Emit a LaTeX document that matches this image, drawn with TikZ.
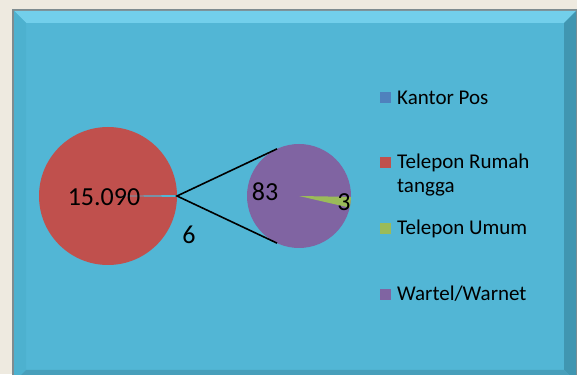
\documentclass[tikz,border=0pt]{standalone}
\usepackage{fontspec}
\setmainfont{Carlito}
\usepackage{tikz}
\usetikzlibrary{calc}
\definecolor{paper}{HTML}{EEEAE0}
\definecolor{rim}{HTML}{7E8C90}
\definecolor{panel}{HTML}{52B6D5}
\definecolor{bevtop}{HTML}{72CFEB}
\definecolor{bevleft}{HTML}{4DB1CF}
\definecolor{bevright}{HTML}{4096B1}
\definecolor{bevbottom}{HTML}{489FBB}
\definecolor{kantor}{HTML}{4F81BD}
\definecolor{rumah}{HTML}{C0504D}
\definecolor{umum}{HTML}{9BBB59}
\definecolor{wartel}{HTML}{8064A2}
\tikzstyle{legendbox} = [rectangle, minimum width=11pt, minimum height=11pt, inner sep=0pt]
\tikzstyle{legendtext} = [anchor=base west, inner sep=0pt, font=\fontsize{21}{24}\selectfont, align=left]
\tikzstyle{value} = [inner sep=0pt, font=\fontsize{26}{30}\selectfont]
\tikzstyle{zoomline} = [black, line width=1.6pt]

\begin{document}
\begin{tikzpicture}[x=1pt, y=1pt]
    \useasboundingbox (0,0) rectangle (577,374);
    \clip (0,0) rectangle (577,374);
    % frame
    \fill[paper] (0,0) rectangle (577,374);
    \fill[rim] (12,-10) rectangle (578,365);
    \fill[panel] (14,-8) rectangle (576,363);
    \fill[bevtop] (14,363) -- (576,363) -- (564,351) -- (26,351) -- cycle;
    \fill[bevleft] (14,363) -- (26,351) -- (26,4) -- (14,-8) -- cycle;
    \fill[bevright] (576,363) -- (564,351) -- (564,4) -- (576,-8) -- cycle;
    \fill[bevbottom] (14,-8) -- (26,4) -- (564,4) -- (576,-8) -- cycle;

    % pies
    \coordinate (big) at (108,178);
    \coordinate (small) at (299,178);
    \fill[rumah] (big) circle (69);
    \fill[panel] (big) -- ++(0.8:69) arc (0.8:-0.8:69) -- cycle;
    \fill[wartel] (small) circle (52);
    \fill[umum] (small) -- ++(-1:52) arc (-1:-13:52) -- cycle;

    \coordinate (apex) at ($(big)+(0:69)$);
    \coordinate (uptip) at ($(small)+(115:52)$);
    \coordinate (downtip) at ($(small)+(-115:52)$);
    \draw [zoomline] (uptip) -- (apex) -- (downtip);

    \node (vrumah) [value] at (104,177) {15.090};
    \node (vkantor) [value] at (189,139) {6};
    \node (vwartel) [value] at (265,182.5) {83};
    \node (vumum) [value] at (344,171.5) {3};

    % legend
    \node (bkantor) [legendbox, fill=kantor] at (385,276) {};
    \node (bumah) [legendbox, fill=rumah] at (385,211) {};
    \node (bumum) [legendbox, fill=umum] at (385,145) {};
    \node (bwartel) [legendbox, fill=wartel] at (385,79) {};
    \node (tkantor) [legendtext] at (397,269.7) {Kantor Pos};
    \node (tumah) [legendtext, anchor=north west] at (397,220) {Telepon Rumah\\tangga};
    \node (tumum) [legendtext] at (397,139) {Telepon Umum};
    \node (twartel) [legendtext] at (397,73.3) {Wartel/Warnet};
\end{tikzpicture}
\end{document}
